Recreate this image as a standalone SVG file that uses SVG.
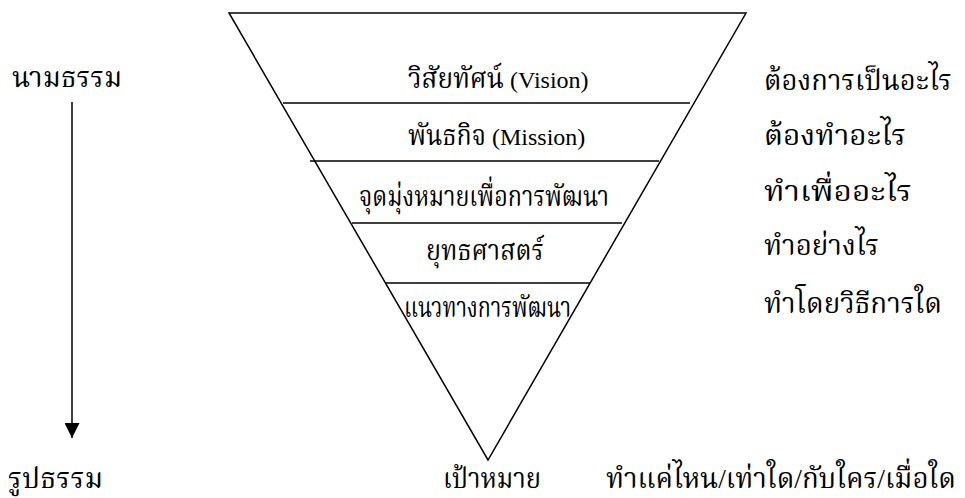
<svg xmlns="http://www.w3.org/2000/svg" width="965" height="498" viewBox="0 0 965 498">
<style>
  .t { font-family: "Liberation Serif", "Noto Serif Thai", "Noto Sans Thai", serif; font-size: 28px; fill: #000; }
  .lat { font-family: "Liberation Serif", serif; font-size: 24px; fill: #000; }
  .ln { stroke: #000; stroke-width: 1.5; fill: none; }
</style>
<defs>
  <marker id="ah" markerWidth="15" markerHeight="15" refX="15" refY="7.5" orient="auto" markerUnits="userSpaceOnUse">
    <path d="M0,0 L15,7.5 L0,15 Z" fill="#000"/>
  </marker>
</defs>
<rect width="965" height="498" fill="#fff"/>
<g id="funnel">
  <path class="ln" d="M229,13 L746,13 L488,460 Z"/>
  <line class="ln" x1="283" y1="103" x2="690" y2="103"/>
  <line class="ln" x1="310" y1="161" x2="659" y2="161"/>
  <line class="ln" x1="352" y1="223" x2="622" y2="223"/>
  <line class="ln" x1="386" y1="283" x2="590" y2="283"/>
</g>
<g id="vision">
  <text class="t" x="408" y="88" textLength="96" lengthAdjust="spacingAndGlyphs">วิสัยทัศน์</text>
  <text class="lat" x="510" y="88">(Vision)</text>
</g>
<g id="mission">
  <text class="t" x="408" y="145" textLength="78" lengthAdjust="spacingAndGlyphs">พันธกิจ</text>
  <text class="lat" x="492" y="145">(Mission)</text>
</g>
<g id="goal"><text class="t" x="359" y="206" textLength="250" lengthAdjust="spacingAndGlyphs">จุดมุ่งหมายเพื่อการพัฒนา</text></g>
<g id="strategy"><text class="t" x="426" y="260" textLength="118" lengthAdjust="spacingAndGlyphs">ยุทธศาสตร์</text></g>
<g id="approach"><text class="t" x="404" y="317" textLength="167" lengthAdjust="spacingAndGlyphs">แนวทางการพัฒนา</text></g>
<g id="target"><text class="t" x="443" y="488" textLength="98" lengthAdjust="spacingAndGlyphs">เป้าหมาย</text></g>
<g id="q1"><text class="t" x="764" y="90" textLength="188" lengthAdjust="spacingAndGlyphs">ต้องการเป็นอะไร</text></g>
<g id="q2"><text class="t" x="764" y="145" textLength="142" lengthAdjust="spacingAndGlyphs">ต้องทำอะไร</text></g>
<g id="q3"><text class="t" x="764" y="201" textLength="148" lengthAdjust="spacingAndGlyphs">ทำเพื่ออะไร</text></g>
<g id="q4"><text class="t" x="764" y="255" textLength="115" lengthAdjust="spacingAndGlyphs">ทำอย่างไร</text></g>
<g id="q5"><text class="t" x="764" y="313" textLength="178" lengthAdjust="spacingAndGlyphs">ทำโดยวิธีการใด</text></g>
<g id="q6"><text class="t" x="606" y="488" textLength="350" lengthAdjust="spacingAndGlyphs">ทำแค่ไหน/เท่าใด/กับใคร/เมื่อใด</text></g>
<g id="abstract"><text class="t" x="12" y="87" textLength="110" lengthAdjust="spacingAndGlyphs">นามธรรม</text></g>
<g id="concrete"><text class="t" x="8" y="488" textLength="95" lengthAdjust="spacingAndGlyphs">รูปธรรม</text></g>
<g id="connectors">
  <line class="ln" x1="72" y1="102" x2="72" y2="438" marker-end="url(#ah)"/>
</g>
</svg>
